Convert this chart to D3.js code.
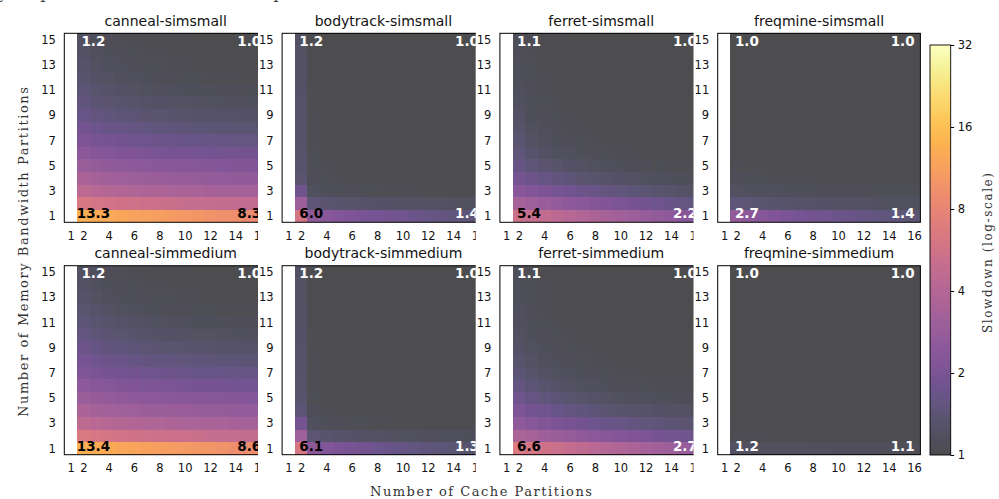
<!DOCTYPE html>
<html><head><meta charset="utf-8">
<script src="https://cdn.jsdelivr.net/npm/d3@7"></script>
<style>body{margin:0;background:#fff}svg{display:block}</style>
</head><body>
<svg id="chart" width="999" height="499"></svg>
<script>
// ---------- data ----------
const cacheCols = [2,3,4,5,6,7,8,9,10,11,12,13,14,15,16];
const bwRows = [15,14,13,12,11,10,9,8,7,6,5,4,3,2,1]; // matrix row order (top to bottom)
const cacheTicks = [1,2,4,6,8,10,12,14,16];
const bwTicks = [1,3,5,7,9,11,13,15];
const cbarTicks = [1,2,4,8,16,32];
const panelTitles = ["canneal-simsmall","bodytrack-simsmall","ferret-simsmall","freqmine-simsmall",
                     "canneal-simmedium","bodytrack-simmedium","ferret-simmedium","freqmine-simmedium"];

const cannealSimsmall = [
 [1.20,1.14,1.10,1.08,1.06,1.05,1.04,1.03,1.03,1.02,1.02,1.01,1.01,1.00,1.00],
 [1.24,1.17,1.13,1.10,1.08,1.07,1.06,1.05,1.04,1.03,1.03,1.02,1.02,1.01,1.01],
 [1.28,1.20,1.16,1.13,1.11,1.09,1.08,1.07,1.06,1.05,1.04,1.04,1.03,1.03,1.02],
 [1.34,1.26,1.21,1.17,1.15,1.13,1.11,1.10,1.09,1.08,1.07,1.06,1.06,1.05,1.05],
 [1.42,1.33,1.28,1.24,1.21,1.19,1.17,1.15,1.14,1.13,1.12,1.11,1.10,1.09,1.09],
 [1.52,1.42,1.37,1.33,1.30,1.27,1.25,1.23,1.21,1.20,1.19,1.18,1.17,1.16,1.15],
 [1.66,1.55,1.49,1.44,1.41,1.38,1.35,1.33,1.31,1.29,1.28,1.27,1.26,1.25,1.24],
 [1.85,1.73,1.66,1.61,1.57,1.53,1.50,1.48,1.46,1.44,1.42,1.41,1.40,1.39,1.38],
 [2.10,1.97,1.89,1.83,1.78,1.74,1.71,1.68,1.65,1.63,1.61,1.60,1.58,1.57,1.56],
 [2.45,2.30,2.21,2.14,2.08,2.03,1.99,1.96,1.93,1.90,1.88,1.86,1.84,1.83,1.82],
 [2.90,2.74,2.63,2.55,2.48,2.42,2.37,2.33,2.29,2.26,2.23,2.21,2.19,2.17,2.16],
 [3.50,3.31,3.19,3.09,3.01,2.94,2.88,2.83,2.79,2.75,2.71,2.68,2.65,2.63,2.61],
 [4.40,4.17,4.02,3.90,3.80,3.71,3.64,3.57,3.51,3.46,3.41,3.37,3.33,3.30,3.27],
 [6.30,6.00,5.79,5.62,5.48,5.35,5.24,5.14,5.05,4.97,4.89,4.82,4.76,4.70,4.65],
 [13.3,12.9,12.5,12.1,11.7,11.3,11.0,10.6,10.3,10.0,9.7,9.3,9.0,8.6,8.3]
];
const bodytrackSimsmall = [
 [1.20,1.03,1.02,1.01,1.01,1.00,1.00,1.00,1.00,1.00,1.00,1.00,1.00,1.00,1.00],
 [1.22,1.04,1.02,1.01,1.01,1.01,1.00,1.00,1.00,1.00,1.00,1.00,1.00,1.00,1.00],
 [1.23,1.04,1.02,1.02,1.01,1.01,1.00,1.00,1.00,1.00,1.00,1.00,1.00,1.00,1.00],
 [1.24,1.04,1.03,1.02,1.01,1.01,1.01,1.00,1.00,1.00,1.00,1.00,1.00,1.00,1.00],
 [1.25,1.05,1.03,1.02,1.01,1.01,1.01,1.00,1.00,1.00,1.00,1.00,1.00,1.00,1.00],
 [1.26,1.05,1.03,1.02,1.02,1.01,1.01,1.01,1.00,1.00,1.00,1.00,1.00,1.00,1.00],
 [1.27,1.06,1.04,1.03,1.02,1.01,1.01,1.01,1.00,1.00,1.00,1.00,1.00,1.00,1.00],
 [1.28,1.06,1.04,1.03,1.02,1.02,1.01,1.01,1.01,1.00,1.00,1.00,1.00,1.00,1.00],
 [1.29,1.07,1.05,1.03,1.02,1.02,1.01,1.01,1.01,1.01,1.00,1.00,1.00,1.00,1.00],
 [1.30,1.08,1.05,1.04,1.03,1.02,1.02,1.01,1.01,1.01,1.01,1.00,1.00,1.00,1.00],
 [1.32,1.09,1.06,1.04,1.03,1.03,1.02,1.02,1.01,1.01,1.01,1.01,1.00,1.00,1.00],
 [1.38,1.11,1.08,1.06,1.05,1.04,1.03,1.03,1.02,1.02,1.02,1.01,1.01,1.01,1.01],
 [1.75,1.18,1.14,1.12,1.10,1.09,1.08,1.07,1.06,1.06,1.05,1.05,1.05,1.04,1.04],
 [3.00,1.45,1.38,1.34,1.31,1.29,1.27,1.25,1.24,1.23,1.22,1.21,1.20,1.19,1.19],
 [6.00,2.60,2.35,2.20,2.08,1.98,1.90,1.82,1.75,1.68,1.62,1.56,1.50,1.45,1.40]
];
const ferretSimsmall = [
 [1.10,1.06,1.04,1.03,1.02,1.02,1.01,1.01,1.00,1.00,1.00,1.00,1.00,1.00,1.00],
 [1.11,1.07,1.05,1.03,1.02,1.02,1.01,1.01,1.01,1.00,1.00,1.00,1.00,1.00,1.00],
 [1.12,1.08,1.05,1.04,1.03,1.02,1.02,1.01,1.01,1.01,1.00,1.00,1.00,1.00,1.00],
 [1.14,1.09,1.06,1.04,1.03,1.03,1.02,1.01,1.01,1.01,1.01,1.00,1.00,1.00,1.00],
 [1.16,1.10,1.07,1.05,1.04,1.03,1.02,1.02,1.01,1.01,1.01,1.01,1.00,1.00,1.00],
 [1.19,1.12,1.08,1.06,1.05,1.04,1.03,1.02,1.02,1.01,1.01,1.01,1.01,1.00,1.00],
 [1.23,1.14,1.10,1.08,1.06,1.05,1.04,1.03,1.02,1.02,1.02,1.01,1.01,1.01,1.00],
 [1.28,1.18,1.13,1.10,1.07,1.06,1.05,1.04,1.03,1.03,1.02,1.02,1.01,1.01,1.01],
 [1.35,1.23,1.17,1.13,1.10,1.08,1.06,1.05,1.04,1.04,1.03,1.03,1.02,1.02,1.01],
 [1.45,1.32,1.24,1.19,1.15,1.12,1.10,1.08,1.07,1.06,1.05,1.04,1.03,1.03,1.02],
 [1.60,1.46,1.37,1.30,1.25,1.21,1.18,1.15,1.13,1.11,1.10,1.08,1.07,1.06,1.05],
 [1.85,1.70,1.60,1.51,1.44,1.38,1.33,1.28,1.25,1.22,1.19,1.16,1.14,1.12,1.10],
 [2.40,2.20,2.04,1.91,1.80,1.71,1.63,1.56,1.50,1.44,1.39,1.34,1.30,1.26,1.22],
 [3.30,3.05,2.85,2.68,2.52,2.38,2.25,2.13,2.02,1.92,1.83,1.74,1.66,1.58,1.50],
 [5.40,5.05,4.75,4.45,4.15,3.90,3.65,3.40,3.20,3.00,2.82,2.65,2.50,2.35,2.20]
];
const freqmineSimsmall = [
 [1.00,1.00,1.00,1.00,1.00,1.00,1.00,1.00,1.00,1.00,1.00,1.00,1.00,1.00,1.00],
 [1.00,1.00,1.00,1.00,1.00,1.00,1.00,1.00,1.00,1.00,1.00,1.00,1.00,1.00,1.00],
 [1.01,1.00,1.00,1.00,1.00,1.00,1.00,1.00,1.00,1.00,1.00,1.00,1.00,1.00,1.00],
 [1.01,1.01,1.00,1.00,1.00,1.00,1.00,1.00,1.00,1.00,1.00,1.00,1.00,1.00,1.00],
 [1.01,1.01,1.01,1.00,1.00,1.00,1.00,1.00,1.00,1.00,1.00,1.00,1.00,1.00,1.00],
 [1.01,1.01,1.01,1.01,1.00,1.00,1.00,1.00,1.00,1.00,1.00,1.00,1.00,1.00,1.00],
 [1.01,1.01,1.01,1.01,1.01,1.00,1.00,1.00,1.00,1.00,1.00,1.00,1.00,1.00,1.00],
 [1.02,1.02,1.01,1.01,1.01,1.01,1.01,1.01,1.01,1.00,1.00,1.00,1.00,1.00,1.00],
 [1.03,1.02,1.02,1.02,1.02,1.01,1.01,1.01,1.01,1.01,1.01,1.01,1.00,1.00,1.00],
 [1.04,1.03,1.03,1.03,1.02,1.02,1.02,1.02,1.01,1.01,1.01,1.01,1.01,1.01,1.01],
 [1.06,1.05,1.05,1.04,1.04,1.03,1.03,1.03,1.02,1.02,1.02,1.02,1.02,1.01,1.01],
 [1.10,1.09,1.08,1.07,1.07,1.06,1.06,1.05,1.05,1.05,1.04,1.04,1.04,1.03,1.03],
 [1.20,1.18,1.16,1.15,1.14,1.13,1.12,1.11,1.11,1.10,1.10,1.09,1.09,1.08,1.08],
 [1.45,1.40,1.36,1.33,1.30,1.28,1.26,1.25,1.23,1.22,1.21,1.20,1.19,1.18,1.18],
 [2.70,2.45,2.27,2.13,2.01,1.91,1.83,1.76,1.70,1.64,1.59,1.54,1.49,1.45,1.40]
];
const cannealSimmedium = [
 [1.20,1.15,1.11,1.08,1.06,1.05,1.04,1.03,1.03,1.02,1.02,1.01,1.01,1.01,1.00],
 [1.24,1.18,1.14,1.11,1.09,1.07,1.06,1.05,1.04,1.04,1.03,1.03,1.02,1.02,1.01],
 [1.29,1.22,1.17,1.14,1.12,1.10,1.09,1.08,1.07,1.06,1.05,1.05,1.04,1.04,1.03],
 [1.36,1.28,1.23,1.19,1.16,1.14,1.12,1.11,1.10,1.09,1.08,1.07,1.07,1.06,1.06],
 [1.44,1.35,1.30,1.26,1.23,1.20,1.18,1.17,1.15,1.14,1.13,1.12,1.11,1.11,1.10],
 [1.55,1.45,1.39,1.35,1.32,1.29,1.27,1.25,1.23,1.22,1.21,1.20,1.19,1.18,1.17],
 [1.70,1.59,1.52,1.47,1.43,1.40,1.38,1.35,1.33,1.32,1.30,1.29,1.28,1.27,1.26],
 [1.90,1.77,1.70,1.64,1.60,1.56,1.53,1.51,1.49,1.47,1.45,1.44,1.43,1.42,1.41],
 [2.15,2.02,1.93,1.87,1.82,1.78,1.74,1.71,1.69,1.67,1.65,1.63,1.62,1.60,1.59],
 [2.50,2.35,2.26,2.18,2.12,2.07,2.03,2.00,1.97,1.94,1.92,1.90,1.88,1.87,1.85],
 [2.95,2.79,2.68,2.60,2.53,2.47,2.42,2.38,2.34,2.31,2.28,2.26,2.24,2.22,2.20],
 [3.55,3.36,3.24,3.14,3.06,2.99,2.93,2.88,2.84,2.80,2.76,2.73,2.70,2.68,2.66],
 [4.50,4.27,4.11,3.99,3.89,3.80,3.72,3.65,3.59,3.54,3.49,3.45,3.41,3.38,3.35],
 [6.50,6.19,5.97,5.80,5.65,5.52,5.41,5.31,5.22,5.13,5.06,4.99,4.92,4.86,4.81],
 [13.4,13.0,12.6,12.2,11.8,11.5,11.1,10.8,10.5,10.2,9.9,9.5,9.2,8.9,8.6]
];
const bodytrackSimmedium = [
 [1.20,1.03,1.02,1.01,1.01,1.00,1.00,1.00,1.00,1.00,1.00,1.00,1.00,1.00,1.00],
 [1.21,1.03,1.02,1.01,1.01,1.00,1.00,1.00,1.00,1.00,1.00,1.00,1.00,1.00,1.00],
 [1.22,1.04,1.02,1.01,1.01,1.01,1.00,1.00,1.00,1.00,1.00,1.00,1.00,1.00,1.00],
 [1.23,1.04,1.02,1.02,1.01,1.01,1.00,1.00,1.00,1.00,1.00,1.00,1.00,1.00,1.00],
 [1.24,1.04,1.03,1.02,1.01,1.01,1.01,1.00,1.00,1.00,1.00,1.00,1.00,1.00,1.00],
 [1.25,1.05,1.03,1.02,1.01,1.01,1.01,1.00,1.00,1.00,1.00,1.00,1.00,1.00,1.00],
 [1.26,1.05,1.03,1.02,1.02,1.01,1.01,1.01,1.00,1.00,1.00,1.00,1.00,1.00,1.00],
 [1.27,1.06,1.04,1.03,1.02,1.01,1.01,1.01,1.00,1.00,1.00,1.00,1.00,1.00,1.00],
 [1.28,1.06,1.04,1.03,1.02,1.02,1.01,1.01,1.01,1.00,1.00,1.00,1.00,1.00,1.00],
 [1.30,1.07,1.05,1.03,1.02,1.02,1.01,1.01,1.01,1.01,1.00,1.00,1.00,1.00,1.00],
 [1.33,1.08,1.05,1.04,1.03,1.02,1.02,1.01,1.01,1.01,1.01,1.00,1.00,1.00,1.00],
 [1.42,1.10,1.07,1.05,1.04,1.03,1.03,1.02,1.02,1.02,1.01,1.01,1.01,1.01,1.01],
 [1.85,1.16,1.12,1.10,1.09,1.08,1.07,1.06,1.05,1.05,1.04,1.04,1.04,1.03,1.03],
 [3.10,1.40,1.33,1.29,1.26,1.24,1.22,1.20,1.19,1.18,1.17,1.16,1.15,1.14,1.14],
 [6.10,2.45,2.20,2.04,1.92,1.82,1.74,1.66,1.60,1.54,1.48,1.43,1.39,1.34,1.30]
];
const ferretSimmedium = [
 [1.10,1.07,1.05,1.04,1.03,1.02,1.02,1.01,1.01,1.01,1.00,1.00,1.00,1.00,1.00],
 [1.12,1.08,1.06,1.04,1.03,1.03,1.02,1.02,1.01,1.01,1.01,1.00,1.00,1.00,1.00],
 [1.13,1.09,1.06,1.05,1.04,1.03,1.02,1.02,1.01,1.01,1.01,1.01,1.00,1.00,1.00],
 [1.15,1.10,1.07,1.05,1.04,1.03,1.03,1.02,1.02,1.01,1.01,1.01,1.01,1.00,1.00],
 [1.17,1.12,1.08,1.06,1.05,1.04,1.03,1.03,1.02,1.02,1.01,1.01,1.01,1.01,1.00],
 [1.20,1.14,1.10,1.08,1.06,1.05,1.04,1.03,1.03,1.02,1.02,1.02,1.01,1.01,1.01],
 [1.25,1.18,1.13,1.10,1.08,1.07,1.05,1.04,1.04,1.03,1.03,1.02,1.02,1.02,1.01],
 [1.32,1.23,1.17,1.14,1.11,1.09,1.07,1.06,1.05,1.04,1.04,1.03,1.03,1.02,1.02],
 [1.42,1.31,1.24,1.19,1.15,1.12,1.10,1.09,1.07,1.06,1.05,1.05,1.04,1.04,1.03],
 [1.55,1.42,1.33,1.27,1.22,1.18,1.15,1.13,1.11,1.10,1.08,1.07,1.07,1.06,1.06],
 [1.75,1.60,1.49,1.41,1.35,1.30,1.26,1.22,1.19,1.17,1.15,1.13,1.12,1.11,1.10],
 [2.05,1.88,1.75,1.65,1.56,1.49,1.43,1.38,1.34,1.31,1.28,1.25,1.23,1.21,1.19],
 [2.55,2.35,2.18,2.04,1.92,1.82,1.74,1.67,1.61,1.55,1.50,1.46,1.42,1.38,1.35],
 [3.60,3.33,3.10,2.90,2.73,2.58,2.45,2.33,2.22,2.12,2.03,1.94,1.86,1.78,1.70],
 [6.60,6.10,5.65,5.25,4.90,4.58,4.28,4.02,3.78,3.55,3.35,3.17,3.00,2.85,2.70]
];
const freqmineSimmedium = [
 [1.00,1.00,1.00,1.00,1.00,1.00,1.00,1.00,1.00,1.00,1.00,1.00,1.00,1.00,1.00],
 [1.00,1.00,1.00,1.00,1.00,1.00,1.00,1.00,1.00,1.00,1.00,1.00,1.00,1.00,1.00],
 [1.00,1.00,1.00,1.00,1.00,1.00,1.00,1.00,1.00,1.00,1.00,1.00,1.00,1.00,1.00],
 [1.00,1.00,1.00,1.00,1.00,1.00,1.00,1.00,1.00,1.00,1.00,1.00,1.00,1.00,1.00],
 [1.00,1.00,1.00,1.00,1.00,1.00,1.00,1.00,1.00,1.00,1.00,1.00,1.00,1.00,1.00],
 [1.00,1.00,1.00,1.00,1.00,1.00,1.00,1.00,1.00,1.00,1.00,1.00,1.00,1.00,1.00],
 [1.01,1.00,1.00,1.00,1.00,1.00,1.00,1.00,1.00,1.00,1.00,1.00,1.00,1.00,1.00],
 [1.01,1.00,1.00,1.00,1.00,1.00,1.00,1.00,1.00,1.00,1.00,1.00,1.00,1.00,1.00],
 [1.01,1.01,1.00,1.00,1.00,1.00,1.00,1.00,1.00,1.00,1.00,1.00,1.00,1.00,1.00],
 [1.01,1.01,1.01,1.00,1.00,1.00,1.00,1.00,1.00,1.00,1.00,1.00,1.00,1.00,1.00],
 [1.01,1.01,1.01,1.01,1.01,1.00,1.00,1.00,1.00,1.00,1.00,1.00,1.00,1.00,1.00],
 [1.02,1.01,1.01,1.01,1.01,1.01,1.01,1.01,1.01,1.00,1.00,1.00,1.00,1.00,1.00],
 [1.03,1.03,1.02,1.02,1.02,1.02,1.02,1.01,1.01,1.01,1.01,1.01,1.01,1.01,1.01],
 [1.07,1.06,1.06,1.05,1.05,1.05,1.04,1.04,1.04,1.04,1.03,1.03,1.03,1.03,1.03],
 [1.22,1.20,1.19,1.18,1.17,1.16,1.16,1.15,1.14,1.14,1.13,1.13,1.12,1.12,1.11]
];
const panelData = [cannealSimsmall, bodytrackSimsmall, ferretSimsmall, freqmineSimsmall,
                   cannealSimmedium, bodytrackSimmedium, ferretSimmedium, freqmineSimmedium];

// ---------- layout ----------
const svg = d3.select('#chart');
const sans = "'DejaVu Sans', sans-serif";
const serif = "'DejaVu Serif', serif";
const left0 = 64.3, step = 217.8, panelW = 202.7, panelH = 189;
const rowTops = [33.3, 265.7];

const norm = d3.scaleLog().domain([1, 32]).range([0, 1]).clamp(true);
function colorOf(v) {
  const c = d3.rgb(d3.interpolateInferno(norm(v)));
  const a = 0.7;
  return d3.rgb(c.r * a + 255 * (1 - a), c.g * a + 255 * (1 - a), c.b * a + 255 * (1 - a)).formatHex();
}

const defs = svg.append('defs');

panelData.forEach((mat, i) => {
  const col = i % 4, row = Math.floor(i / 4);
  const left = left0 + col * step, top = rowTops[row];
  const x = d3.scaleLinear().domain([0.5, 16.5]).range([left, left + panelW]);
  const y = d3.scaleLinear().domain([0.5, 15.5]).range([top + panelH, top]);
  const g = svg.append('g');
  if (col < 3) {
    const id = 'clip' + i;
    defs.append('clipPath').attr('id', id).append('rect')
      .attr('x', 0).attr('y', 0).attr('width', left + step - 24.2).attr('height', 499);
    g.attr('clip-path', `url(#${id})`);
  }
  const cells = [];
  mat.forEach((r, ri) => r.forEach((v, ci) => cells.push({bw: bwRows[ri], c: cacheCols[ci], v})));
  g.append('g').selectAll('rect').data(cells).join('rect')
    .attr('x', d => Math.round(x(d.c - 0.5)))
    .attr('width', d => Math.round(x(d.c + 0.5)) - Math.round(x(d.c - 0.5)))
    .attr('y', d => Math.round(y(d.bw + 0.5)))
    .attr('height', d => Math.round(y(d.bw - 0.5)) - Math.round(y(d.bw + 0.5)))
    .attr('fill', d => colorOf(d.v))
    .attr('shape-rendering', 'crispEdges');

  // corner annotations
  const nR = mat.length, nC = mat[0].length;
  const ann = [
    {v: mat[0][0], xv: 2.8, yv: 14.87},
    {v: mat[0][nC - 1], xv: 15.1, yv: 14.87},
    {v: mat[nR - 1][0], xv: 2.8, yv: 1.19},
    {v: mat[nR - 1][nC - 1], xv: 15.1, yv: 1.19}
  ];
  g.append('g').selectAll('text').data(ann).join('text')
    .attr('x', d => x(d.xv)).attr('y', d => y(d.yv)).attr('dy', '0.36em')
    .attr('text-anchor', 'middle')
    .style('font-family', sans).style('font-size', '13.5px').style('font-weight', 'bold')
    .attr('fill', d => d.v >= 4 ? '#000' : '#fff')
    .text(d => d.v.toFixed(1));

  // frame
  g.append('rect').attr('x', left).attr('y', top).attr('width', panelW).attr('height', panelH)
    .attr('fill', 'none').attr('stroke', '#000').attr('stroke-width', 1);

  // axes
  const xa = g.append('g').attr('transform', `translate(0,${top + panelH})`)
    .call(d3.axisBottom(x).tickValues(cacheTicks).tickSize(0).tickPadding(9.5).tickFormat(d3.format('d')));
  const ya = g.append('g').attr('transform', `translate(${left},0)`)
    .call(d3.axisLeft(y).tickValues(bwTicks).tickSize(0).tickPadding(8.5).tickFormat(d3.format('d')));
  [xa, ya].forEach(a => {
    a.select('.domain').remove();
    a.attr('font-family', null).attr('font-size', null);
    a.selectAll('text').style('font-family', sans).style('font-size', '11.5px').attr('fill', '#111');
  });

  // title
  g.append('text').attr('x', left + panelW / 2).attr('y', top - 7.5)
    .attr('text-anchor', 'middle').style('font-family', sans).style('font-size', '14px')
    .attr('fill', '#111').text(panelTitles[i]);
});

// ---------- colorbar ----------
const cbX = 930, cbW = 20.7, cbTop = 45, cbBot = 455;
const cbScale = d3.scaleLog().domain([1, 32]).range([cbBot, cbTop]);
const grad = defs.append('linearGradient').attr('id', 'cbgrad')
  .attr('x1', 0).attr('y1', 1).attr('x2', 0).attr('y2', 0);
d3.range(0, 1.0001, 0.02).forEach(t => {
  grad.append('stop').attr('offset', t).attr('stop-color', colorOf(Math.pow(32, t)));
});
svg.append('rect').attr('x', cbX).attr('y', cbTop).attr('width', cbW).attr('height', cbBot - cbTop)
  .attr('fill', 'url(#cbgrad)').attr('stroke', '#000').attr('stroke-width', 0.9);
const cba = svg.append('g').attr('transform', `translate(${cbX + cbW},0)`)
  .call(d3.axisRight(cbScale).tickValues(cbarTicks).tickSize(3.5).tickPadding(3.5).tickFormat(d3.format('d')));
cba.select('.domain').remove();
cba.attr('font-family', null).attr('font-size', null);
cba.selectAll('line').attr('stroke', '#000');
cba.selectAll('text').style('font-family', sans).style('font-size', '11.5px').attr('fill', '#111');

svg.append('text').attr('transform', 'translate(992,253) rotate(-90)')
  .attr('text-anchor', 'middle').style('font-family', serif).style('font-size', '12px')
  .attr('fill', '#333').attr('textLength', 160).attr('lengthAdjust', 'spacing')
  .text('Slowdown (log-scale)');

// ---------- axis titles ----------
svg.append('text').attr('x', 481).attr('y', 496)
  .attr('text-anchor', 'middle').style('font-family', serif).style('font-size', '13px')
  .attr('fill', '#333').attr('textLength', 222).attr('lengthAdjust', 'spacing')
  .text('Number of Cache Partitions');
svg.append('text').attr('transform', 'translate(28,252) rotate(-90)')
  .attr('text-anchor', 'middle').style('font-family', serif).style('font-size', '13px')
  .attr('fill', '#333').attr('textLength', 330).attr('lengthAdjust', 'spacing')
  .text('Number of Memory Bandwidth Partitions');

// cropped remnants at the top edge
svg.append('text').attr('x', -1).attr('y', -1).style('font-family', serif).style('font-size', '13px').attr('fill', '#333').text('y');
svg.append('text').attr('x', 43).attr('y', 2).attr('text-anchor', 'middle').style('font-family', serif).style('font-size', '13px').attr('fill', '#333').text('1');
svg.append('text').attr('x', 276).attr('y', 2).attr('text-anchor', 'middle').style('font-family', serif).style('font-size', '13px').attr('fill', '#333').text('1');
</script>
</body></html>
